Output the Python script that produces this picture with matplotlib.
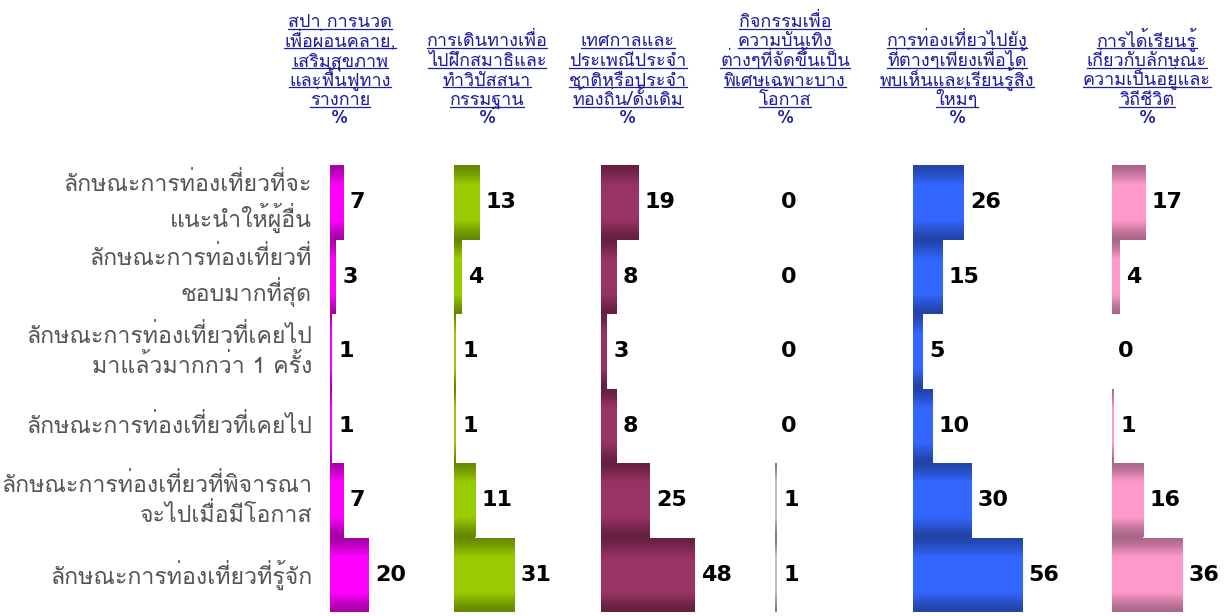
import numpy as np
import matplotlib
matplotlib.use("Agg")
import matplotlib.pyplot as plt
from matplotlib.colors import LinearSegmentedColormap
from matplotlib.lines import Line2D

# row labels (top to bottom)
rows = ["ลักษณะการท่องเที่ยวที่จะ\nแนะนำให้ผู้อื่น",
        "ลักษณะการท่องเที่ยวที่\nชอบมากที่สุด",
        "ลักษณะการท่องเที่ยวที่เคยไป\nมาแล้วมากกว่า 1 ครั้ง",
        "ลักษณะการท่องเที่ยวที่เคยไป",
        "ลักษณะการท่องเที่ยวที่พิจารณา\nจะไปเมื่อมีโอกาส",
        "ลักษณะการท่องเที่ยวที่รู้จัก"]

# column headers, one list of lines each
headers = [["สปา การนวด", "เพื่อผ่อนคลาย,", "เสริมสุขภาพ", "และฟื้นฟูทาง", "ร่างกาย"],
           ["การเดินทางเพื่อ", "ไปฝึกสมาธิและ", "ทำวิปัสสนา", "กรรมฐาน"],
           ["เทศกาลและ", "ประเพณีประจำ", "ชาติหรือประจำ", "ท้องถิ่น/ดั้งเดิม"],
           ["กิจกรรมเพื่อ", "ความบันเทิง", "ต่างๆที่จัดขึ้นเป็น", "พิเศษเฉพาะบาง", "โอกาส"],
           ["การท่องเที่ยวไปยัง", "ที่ต่างๆเพียงเพื่อได้", "พบเห็นและเรียนรู้สิ่ง", "ใหม่ๆ"],
           ["การได้เรียนรู้", "เกี่ยวกับลักษณะ", "ความเป็นอยู่และ", "วิถีชีวิต"]]

spa = [7, 3, 1, 1, 7, 20]
meditation = [13, 4, 1, 1, 11, 31]
festival = [19, 8, 3, 8, 25, 48]
events = [0, 0, 0, 0, 1, 1]
sightseeing = [26, 15, 5, 10, 30, 56]
lifestyle = [17, 4, 0, 1, 16, 36]
series = [spa, meditation, festival, events, sightseeing, lifestyle]

# (dark edge, bright middle) of each column's gradient
colors = [("#a600a6", "#ff00ff"),
          ("#668800", "#99cc00"),
          ("#66203f", "#993366"),
          ("#7a7a7a", "#c0c0c0"),
          ("#2244a8", "#3366ff"),
          ("#aa6688", "#ff99cc")]

W, H = 1227, 616
thai = ["Loma", "DejaVu Sans"]
fig = plt.figure(figsize=(W / 100, H / 100), dpi=100)

px_per_unit = 1.95
col_left = [330, 454, 601, 775, 913, 1112]
head_cx = [340, 487, 628, 785, 957, 1147]
top, bottom = 165, 612

# vertical shading: dark at the top and bottom edge, bright in the middle
t = np.linspace(0, 1, 200)
profile = np.clip(np.sin(np.pi * t) * 1.35, 0, 1) ** 1.5

for k, vals in enumerate(series):
    ax = fig.add_axes([col_left[k] / W, (H - bottom) / H, 110 / W, (bottom - top) / H])
    ax.axis("off")
    cmap = LinearSegmentedColormap.from_list("g%d" % k, colors[k])
    bars = ax.barh(range(len(rows)), vals, height=1.0, color=colors[k][0], linewidth=0)
    for i, (b, v) in enumerate(zip(bars, vals)):
        if v > 0:
            im = ax.imshow(profile[:, None], cmap=cmap, vmin=0, vmax=1, aspect="auto",
                           extent=[0, v, i + 0.5, i - 0.5], interpolation="bilinear",
                           zorder=2)
            im.set_clip_path(b)
        ax.annotate(str(v), (v, i), xytext=(4.5, 0), textcoords="offset points",
                    ha="left", va="center", fontsize=16, fontweight="bold",
                    family="DejaVu Sans", annotation_clip=False)
    ax.set_xlim(0, 110 / px_per_unit)
    ax.set_ylim(len(rows) - 0.5, -0.5)

# row labels
row_h = (bottom - top) / len(rows)
for i, lab in enumerate(rows):
    y = top + (i + 0.5) * row_h
    fig.text(312 / W, 1 - y / H, lab, ha="right", va="center", family=thai,
             fontsize=16.7, color="#555555", linespacing=1.3)

# headers, underlined line by line
blue = "#1c1ca0"
texts = []
for k, lines in enumerate(headers):
    for j, ln in enumerate(lines):
        yb = 105 - (len(lines) - 1 - j) * 19.5
        tx = fig.text(head_cx[k] / W, 1 - yb / H, ln, ha="center", va="baseline",
                      family=thai, fontsize=13, color=blue)
        texts.append((tx, yb))
    fig.text(head_cx[k] / W, 1 - 123 / H, "%", ha="center", va="baseline",
             family=thai, fontsize=14, color=blue)

fig.canvas.draw()
r = fig.canvas.get_renderer()
for tx, yb in texts:
    bb = tx.get_window_extent(r)
    yl = 1 - (yb + 1.5) / H
    fig.add_artist(Line2D([bb.x0 / W, bb.x1 / W], [yl, yl], transform=fig.transFigure,
                          color=blue, linewidth=0.9))

fig.savefig("out.png", dpi=100)
